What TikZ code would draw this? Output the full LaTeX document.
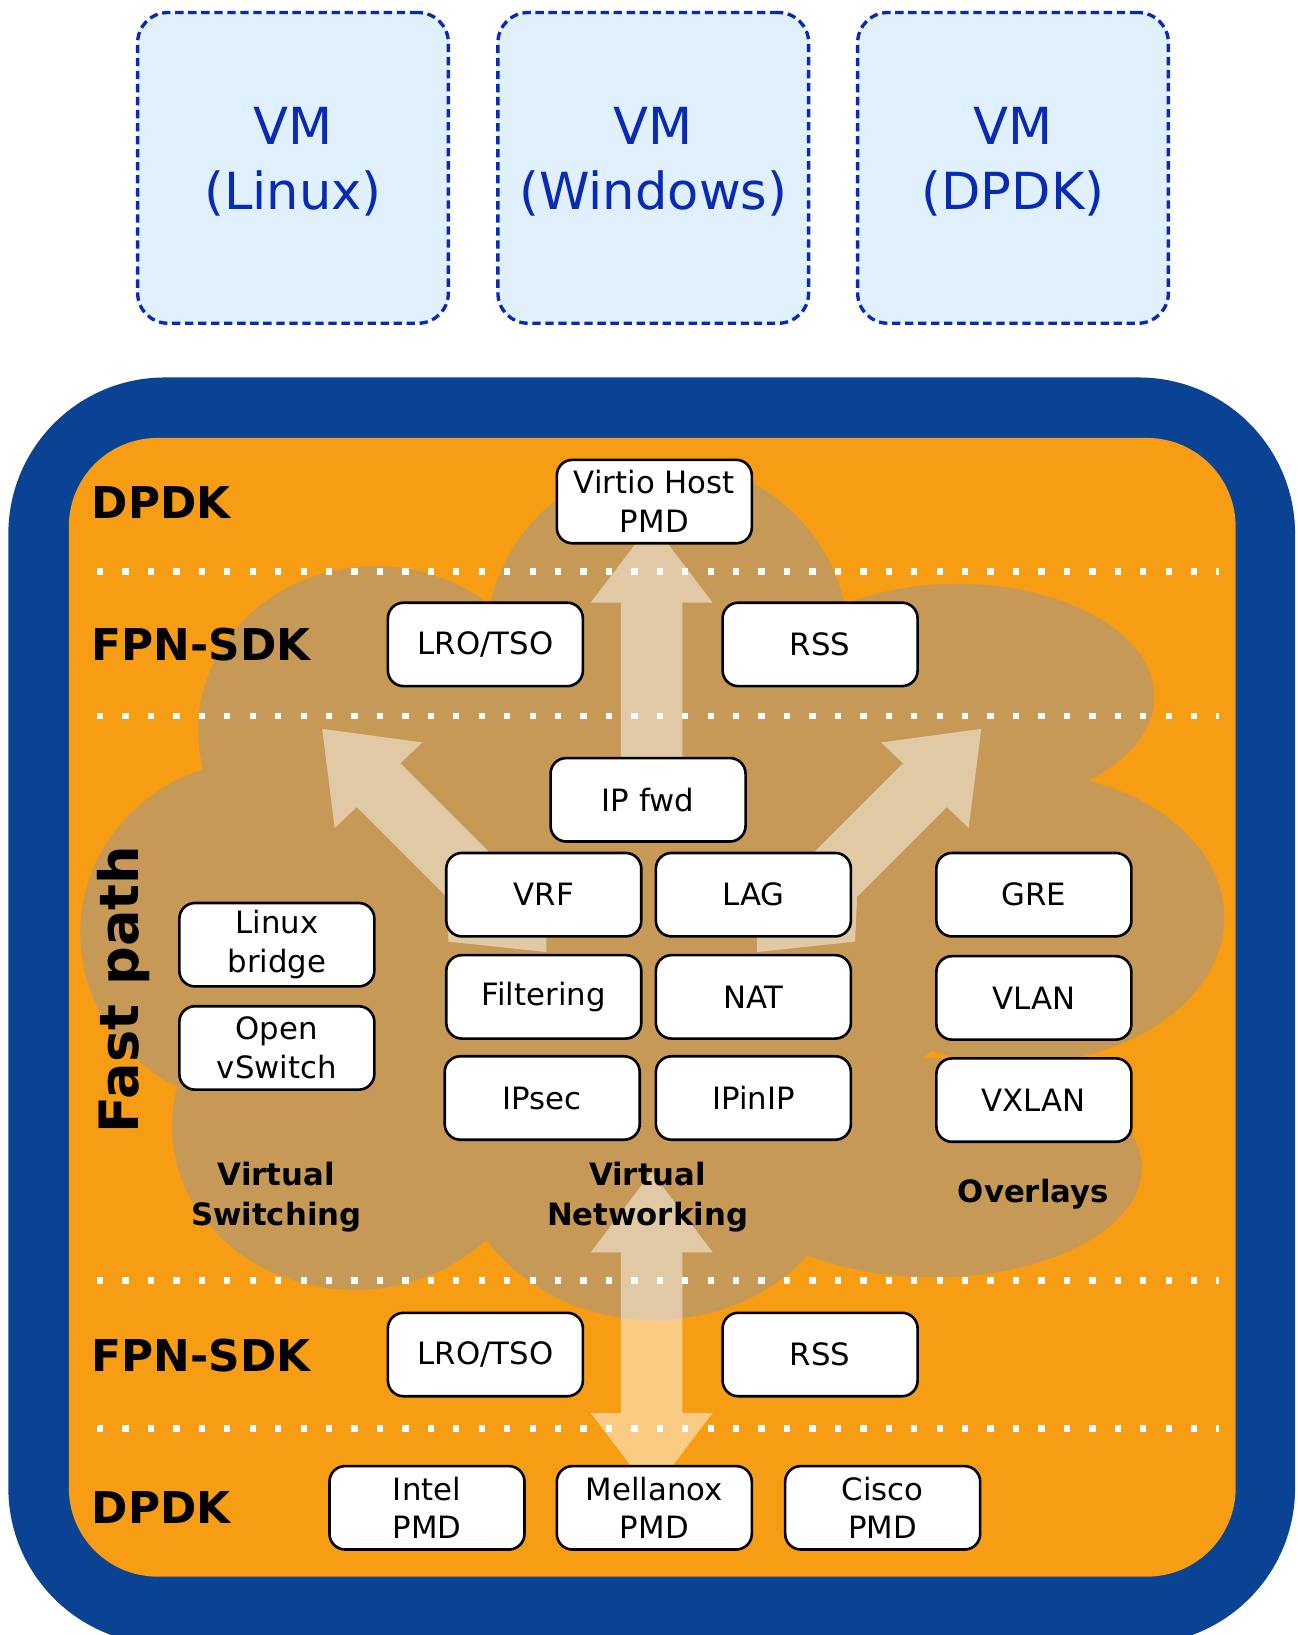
\documentclass[tikz,border=0pt]{standalone}
\usepackage{fontspec}
\setmainfont{DejaVu Sans}
\definecolor{vmfill}{RGB}{224,240,252}
\definecolor{vmblue}{RGB}{8,42,180}
\definecolor{hostblue}{RGB}{10,67,147}
\definecolor{fporange}{RGB}{246,157,19}
\definecolor{cloudtan}{RGB}{198,153,86}
\tikzset{
  blk/.style={draw,line width=2.5pt,fill=white,rounded corners=15pt,minimum width=187pt,
    minimum height=80pt,inner sep=0pt,align=center,font=\fontsize{29.5}{37}\selectfont},
  vm/.style={draw=vmblue,fill=vmfill,line width=3.2pt,dash pattern=on 8pt off 4.5pt,
    rounded corners=29pt,minimum size=298pt,align=center,text=vmblue,text depth=18pt,
    font=\fontsize{49}{63}\selectfont},
  layer/.style={anchor=base west,inner sep=0pt,font=\fontsize{42}{50}\selectfont\bfseries},
  grp/.style={align=center,inner sep=0pt,font=\fontsize{29.5}{38}\selectfont\bfseries},
  sep/.style={white,line width=6pt,dash pattern=on 6pt off 18.4pt},
  fat/.style={fill=white,fill opacity=.48}
}
\begin{document}
\begin{tikzpicture}[x=1pt,y=-1pt]
\useasboundingbox (0,0) rectangle (1244,1568);
\clip (0,0) rectangle (1244,1568);
% guests
\node[vm] (vmlinux) at (281,161) {VM\\(Linux)};
\node[vm] (vmwin) at (626.5,161) {VM\\(Windows)};
\node[vm] (vmdpdk) at (971.5,161) {VM\\(DPDK)};
% host
\fill[hostblue,rounded corners=150pt] (8,362) rectangle (1242,1577);
\fill[fporange,rounded corners=85pt] (66,420) rectangle (1185,1512);
% cloud
\begin{scope}[cloudtan]
  \fill (640,617) circle[radius=174];
  \fill (360,700) ellipse[x radius=170,y radius=157];
  \fill (250,895) ellipse[x radius=173,y radius=166];
  \fill (340,1080) ellipse[x radius=175,y radius=157];
  \fill (627,1090) ellipse[x radius=194,y radius=176];
  \fill (895,1120) ellipse[x radius=200,y radius=105];
  \fill (975,880) ellipse[x radius=199,y radius=140];
  \fill (918,668) ellipse[x radius=189,y radius=108];
  \fill (625,880) ellipse[x radius=350,y radius=200];
\end{scope}
\foreach \y in {548,687,1228,1370}
  \draw[sep] (93,\y) -- (1169,\y);
% big arrows
\fill[fat] (595.5,760) -- (595.5,578) -- (566.5,578) -- (625,501) -- (683.5,578)
  -- (654.5,578) -- (654.5,760) -- cycle;
\fill[fat] (595.5,1201) -- (566.5,1201) -- (625,1124) -- (683.5,1201) -- (654.5,1201)
  -- (654.5,1355) -- (683.5,1355) -- (625,1432) -- (566.5,1355) -- (595.5,1355) -- cycle;
\fill[fat] (309,699) -- (405,712) -- (384,732) -- (524,872) -- (524,913) -- (430,903)
  -- (428,860) -- (342,774) -- (321,794) -- cycle;
\fill[fat] (941,699) -- (845,712) -- (866,732) -- (726,872) -- (726,913) -- (820,903)
  -- (822,860) -- (908,774) -- (929,794) -- cycle;
% layers
\node[layer] (dpdktop) at (88,497) {DPDK};
\node[layer] (sdktop) at (88,633) {FPN-SDK};
\node[layer] (sdkbot) at (88,1315) {FPN-SDK};
\node[layer] (dpdkbot) at (88,1461) {DPDK};
\node[rotate=90,anchor=base,inner sep=0pt,font=\fontsize{52}{60}\selectfont\bfseries]
  (fastpath) at (133,949) {Fast path};
% blocks
\node[blk] (virtio) at (627.5,481) {Virtio Host\\PMD};
\node[blk] (lrotop) at (465.5,618) {LRO/TSO};
\node[blk] (rsstop) at (786.5,618) {RSS};
\node[blk] (ipfwd) at (621.5,767) {IP fwd};
\foreach \n/\x/\y/\t in {vrf/521.5/858/VRF,lag/722.5/858/LAG,filter/521.5/956/Filtering,
    nat/722.5/956/NAT,ipsec/520/1053/IPsec,ipinip/722.5/1053/IPinIP,
    gre/991.5/858/GRE,vlan/991.5/957/VLAN,vxlan/991.5/1055/VXLAN}
  \node[blk] (\n) at (\x,\y) {\t};
\node[blk] (lxbridge) at (265.5,906) {Linux\\bridge};
\node[blk] (ovs) at (265.5,1005) {Open\\vSwitch};
\node[blk] (lrobot) at (465.5,1299) {LRO/TSO};
\node[blk] (rssbot) at (786.5,1299) {RSS};
\node[blk] (intel) at (409.5,1446) {Intel\\PMD};
\node[blk] (mlx) at (627.5,1446) {Mellanox\\PMD};
\node[blk] (cisco) at (846.5,1446) {Cisco\\PMD};
% groups
\node[grp] (vswitch) at (265,1148) {Virtual\\Switching};
\node[grp] (vnet) at (621,1148) {Virtual\\Networking};
\node[grp] (overlays) at (991,1145) {Overlays};
\end{tikzpicture}
\end{document}
